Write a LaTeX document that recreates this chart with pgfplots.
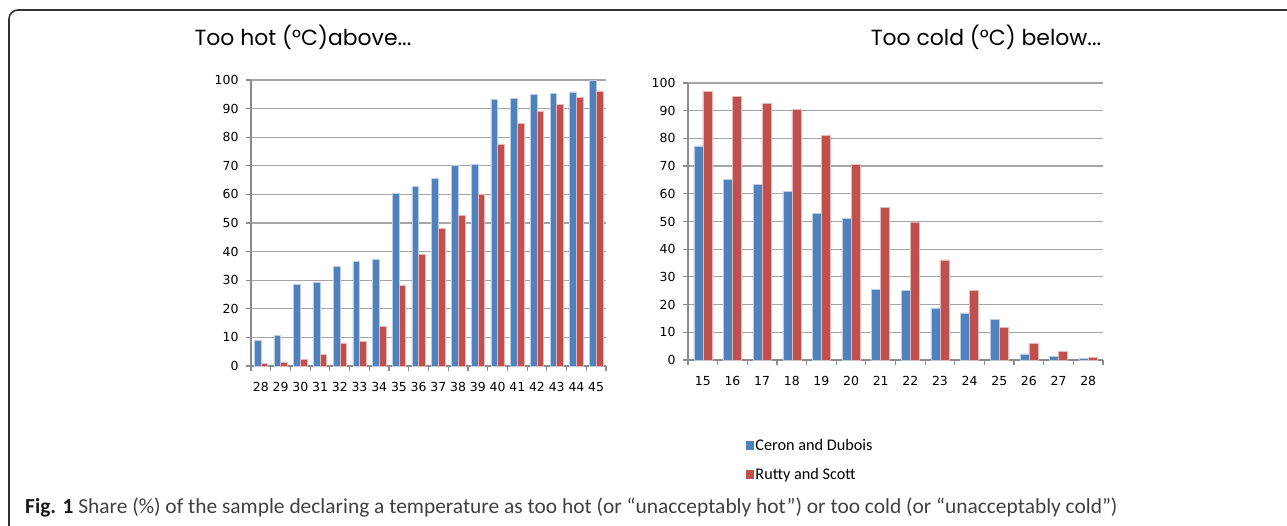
\documentclass[border=0pt]{standalone}
\usepackage{fontspec}
\setmainfont{DejaVu Sans}
\newfontfamily\titlefont{Poppins}
\newfontfamily\legfont{Carlito}
\usepackage{pgfplots}
\usepackage{pgfplotstable}
\pgfplotsset{compat=1.18}

\definecolor{cdblue}{HTML}{4F81BD}
\definecolor{rsred}{HTML}{C0504D}
\definecolor{cdedge}{HTML}{B9CDE5}
\definecolor{rsedge}{HTML}{E6B9B8}
\definecolor{gridgray}{HTML}{A6A6A6}
\definecolor{axisgray}{HTML}{8C8C8C}
\definecolor{captext}{HTML}{404040}

% too hot above... (share of sample, %)
\pgfplotstableread{
idx temp ceron rutty
0  28   9.0   0.9
1  29  10.6   1.4
2  30  28.6   2.2
3  31  29.4   4.0
4  32  34.8   8.1
5  33  36.5   8.5
6  34  37.3  13.9
7  35  60.3  28.1
8  36  62.8  39.0
9  37  65.7  48.2
10 38  70.2  52.6
11 39  70.6  60.2
12 40  93.2  77.7
13 41  93.6  84.8
14 42  95.0  89.0
15 43  95.3  91.6
16 44  95.8  94.0
17 45 100.0  96.2
}\hottable

% too cold below...
\pgfplotstableread{
idx temp ceron rutty
0  15  77.3  97.0
1  16  65.2  95.2
2  17  63.5  92.7
3  18  61.0  90.6
4  19  52.9  81.2
5  20  51.2  70.7
6  21  25.5  55.2
7  22  25.0  49.6
8  23  18.8  36.1
9  24  17.0  25.0
10 25  14.6  11.9
11 26   2.2   6.1
12 27   1.4   3.1
13 28   0.5   1.0
}\coldtable

\pgfplotsset{
  panel/.style={
    scale only axis,
    axis lines=left,
    axis line style={axisgray, line width=1.5bp, -},
    ymin=0, ymax=100, ytick={0,10,...,100},
    ymajorgrids,
    grid style={gridgray, line width=1.2bp},
    tick align=outside,
    major tick length=5bp, minor tick length=5bp,
    ytick style={axisgray, line width=1.2bp},
    major x tick style={draw=none},
    minor x tick style={axisgray, line width=1.2bp},
    xtick=data,
    ticklabel style={font=\fontsize{12.5}{14}\selectfont},
    yticklabel style={xshift=-4bp},
    xticklabel style={yshift=-8bp},
    /pgf/number format/assume math mode=true,
    ybar=0pt,
    clip=false,
  },
  cd/.style={fill=cdblue, draw=cdedge, line width=0.5bp},
  rs/.style={fill=rsred, draw=rsedge, line width=0.5bp},
}

\begin{document}
\begin{tikzpicture}[x=1bp, y=1bp]
\path[use as bounding box] (0,0) rectangle (1287,526);

% frame
\draw[line width=1.6bp, black!80] (1295,516) -- (18,516)
  arc[start angle=90, end angle=180, radius=9] -- (9,-5);

% left: too hot
\begin{axis}[panel,
  at={(251bp,160bp)}, anchor=south west,
  width=355bp, height=286bp,
  xmin=-0.5, xmax=17.5,
  minor xtick={-0.5,0.5,...,17.5},
  xticklabels={28,29,30,31,32,33,34,35,36,37,38,39,40,41,42,43,44,45},
  bar width=6.7bp,
]
\addplot[cd] table[x=idx, y=ceron] {\hottable};
\addplot[rs] table[x=idx, y=rutty] {\hottable};
\end{axis}

% right: too cold
\begin{axis}[panel,
  at={(688bp,166bp)}, anchor=south west,
  width=415bp, height=277bp,
  xmin=-0.5, xmax=13.5,
  minor xtick={-0.5,0.5,...,13.5},
  xticklabels={15,16,17,18,19,20,21,22,23,24,25,26,27,28},
  bar width=9bp,
  legend style={draw=none, fill=none, at={(0.132,-0.272)}, anchor=north west,
    font=\legfont\fontsize{16.3}{18}\selectfont, row sep=13bp,
    nodes={inner sep=1.5bp}},
  legend cell align=left,
  legend image code/.code={\fill[#1, draw=none] (0bp,-4.5bp) rectangle (8bp,4.5bp);},
]
\addplot[cd] table[x=idx, y=ceron] {\coldtable};
\addlegendentry{Ceron and Dubois}
\addplot[rs] table[x=idx, y=rutty] {\coldtable};
\addlegendentry{Rutty and Scott}
\end{axis}

% panel titles
\node[font=\titlefont\fontsize{22}{26}\selectfont] at (303,489) {Too hot (°C)above...};
\node[font=\titlefont\fontsize{22}{26}\selectfont] at (986,489) {Too cold (°C) below...};

% caption
\node[anchor=base west, inner sep=0pt, font=\legfont\fontsize{21.5}{24}\selectfont, text=captext]
  at (25,12) {\textcolor{black!90}{\textbf{Fig. 1}} Share (\%) of the sample declaring a temperature as too hot (or “unacceptably hot”) or too cold (or “unacceptably cold”)};
\end{tikzpicture}
\end{document}
